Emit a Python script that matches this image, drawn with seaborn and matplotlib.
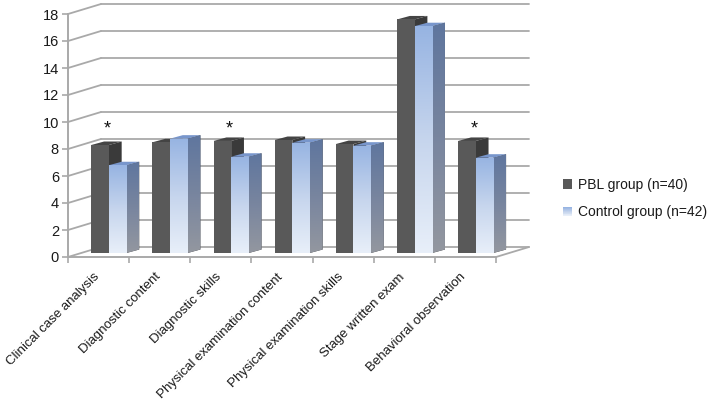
import numpy as np
import pandas as pd
import seaborn as sns
import matplotlib
matplotlib.use("Agg")
import matplotlib.pyplot as plt
from matplotlib.colors import LinearSegmentedColormap
from matplotlib.legend_handler import HandlerBase
from matplotlib.patches import Patch, Polygon, Rectangle
from matplotlib.transforms import ScaledTranslation

# -------------------- data --------------------
categories = ["Clinical case analysis", "Diagnostic content", "Diagnostic skills",
              "Physical examination content", "Physical examination skills",
              "Stage written exam", "Behavioral observation"]
pbl_values = [8.0, 8.2, 8.3, 8.37, 8.07, 17.3, 8.3]
control_values = [6.5, 8.47, 7.13, 8.17, 7.95, 16.8, 7.06]
group_names = ["PBL group (n=40)", "Control group (n=42)"]
star_categories = [0, 2, 6]
y_ticks = list(range(0, 20, 2))

# -------------------- look of the fake 3d --------------------
GRID = "#a9a9a9"
PX_X = 428 / 7   # pixels per category
PX_Y = 243 / 18  # pixels per y unit
WALL_DX, WALL_DY = 33 / PX_X, 10 / PX_Y
BAR_DX, BAR_DY = 10.3 / PX_X, 4 / PX_Y
SIDE_DX, SIDE_DY = 12.8 / PX_X, 3.5 / PX_Y

front_cmap = LinearSegmentedColormap.from_list("front", ["#e8eff9", "#c6d5ed", "#97b4e2"])
side_cmap = LinearSegmentedColormap.from_list("side", ["#93979f", "#78859f", "#5f769e"])

sns.set_style("white")
plt.rcParams["font.family"] = ["Liberation Sans", "DejaVu Sans"]

df = pd.DataFrame({
    "category": categories * 2,
    "group": [group_names[0]] * 7 + [group_names[1]] * 7,
    "value": pbl_values + control_values,
})

fig = plt.figure(figsize=(7.07, 4.05), dpi=100)
ax = fig.add_axes([68 / 707, (405 - 257) / 405, 428 / 707, 243 / 405])

sns.barplot(data=df, x="category", y="value", hue="group", order=categories,
            hue_order=group_names, palette=["#595959", "#a9c0e6"], width=0.575,
            gap=0, saturation=1, legend=False, ax=ax, zorder=5)

# -------------------- walls and floor --------------------
for v in y_ticks:
    ax.plot([-0.5 + WALL_DX, 6.5 + WALL_DX], [v + WALL_DY, v + WALL_DY], color=GRID, lw=1.3,
            clip_on=False, zorder=1)
    if v > 0:
        ax.plot([-0.5, -0.5 + WALL_DX], [v, v + WALL_DY], color=GRID, lw=1.3, clip_on=False, zorder=1)
ax.plot([-0.5, -0.5 + WALL_DX], [0, WALL_DY], color=GRID, lw=1.3, clip_on=False, zorder=1)
ax.plot([6.5, 6.5 + WALL_DX], [0, WALL_DY], color=GRID, lw=1.3, clip_on=False, zorder=1)

# -------------------- bars: shift, then add side and top faces --------------------
ax.set_xlim(-0.5, 6.5)
ax.set_ylim(0, 18)
bars = [p for p in ax.patches if p.get_height() > 0]
n_cat = len(categories)
for idx, bar in enumerate(bars):
    is_control = idx >= n_cat
    z = 5 + bar.get_x() * 4 + (2 if is_control else 0)
    bar.set_x(bar.get_x() + BAR_DX)
    bar.set_y(BAR_DY)
    bar.set_linewidth(0)
    bar.set_zorder(z + 1)
    x0 = bar.get_x()
    x1 = x0 + bar.get_width()
    y0 = BAR_DY
    y1 = y0 + bar.get_height()

    side = Polygon([(x1, y0), (x1, y1), (x1 + SIDE_DX, y1 + SIDE_DY), (x1 + SIDE_DX, y0 + SIDE_DY)],
                   closed=True, lw=0, fc="#3a3a3a", zorder=z, clip_on=False)
    top = Polygon([(x0, y1), (x1, y1), (x1 + SIDE_DX, y1 + SIDE_DY), (x0 + SIDE_DX, y1 + SIDE_DY)],
                  closed=True, lw=0, fc="#7896cc" if is_control else "#444444", zorder=z, clip_on=False)
    ax.add_patch(side)
    ax.add_patch(top)

    if is_control:
        grad = np.linspace(0, 1, 128).reshape(-1, 1)
        im = ax.imshow(grad, cmap=front_cmap, origin="lower", aspect="auto", zorder=z + 1.5,
                       extent=(x0, x1, y0, y1))
        im.set_clip_path(bar)
        im2 = ax.imshow(grad, cmap=side_cmap, origin="lower", aspect="auto", zorder=z + 0.5,
                        extent=(x1, x1 + SIDE_DX, y0, y1 + SIDE_DY))
        im2.set_clip_path(side)
        im2.set_clip_box(fig.bbox)  # last bar's side sticks out of the axes
ax.set_xlim(-0.5, 6.5)
ax.set_ylim(0, 18)

# significance stars
for c in star_categories:
    ax.text(c + 0.14, 9.5, "*", ha="center", va="center", fontsize=13, color="#111111", zorder=40)

# -------------------- axes --------------------
sns.despine(ax=ax, top=True, right=True)
for s in ["left", "bottom"]:
    ax.spines[s].set_color(GRID)
    ax.spines[s].set_linewidth(1.4)
    ax.spines[s].set_zorder(2)

ax.set_xlabel("")
ax.set_ylabel("")
ax.set_yticks(y_ticks)
ax.tick_params(axis="y", left=True, length=4.5, width=1.2, color=GRID, labelsize=10.5,
               labelcolor="#1a1a1a", pad=2)
ax.set_xticks(range(n_cat))
ax.set_xticklabels(categories, rotation=45, ha="right", va="top", rotation_mode="anchor", fontsize=9.55,
                   color="#1a1a1a")
ax.tick_params(axis="x", which="major", bottom=False, length=0, pad=10)
ax.set_xticks(np.arange(-0.5, 7, 1), minor=True)
ax.tick_params(axis="x", which="minor", bottom=True, length=4, width=1.2, color=GRID)
# labels sit a bit left of the category centre
shift = ScaledTranslation(-5.5 / 100, 0, fig.dpi_scale_trans)
for lab in ax.get_xticklabels():
    lab.set_transform(lab.get_transform() + shift)


# -------------------- legend --------------------
class GradientHandler(HandlerBase):
    # stacked strips since a legend patch has no gradient of its own
    def create_artists(self, legend, orig, xd, yd, w, h, fontsize, trans):
        n = 10
        strips = []
        for i in range(n):
            strips.append(Rectangle((xd, yd + h * i / n), w, h / n + 0.2, lw=0,
                                    fc=front_cmap(i / (n - 1)), transform=trans))
        return strips


handles = [Patch(fc="#595959", lw=0), Patch(fc="#a9c0e6", lw=0)]
fig.legend(handles, group_names, loc="center left", bbox_to_anchor=(563 / 707, 1 - 198.5 / 405),
           frameon=False, fontsize=10, labelcolor="#1a1a1a", handlelength=0.65, handleheight=0.65,
           handletextpad=0.43, labelspacing=0.95, borderpad=0, borderaxespad=0,
           handler_map={handles[1]: GradientHandler()})

fig.savefig("out.png", dpi=100)
